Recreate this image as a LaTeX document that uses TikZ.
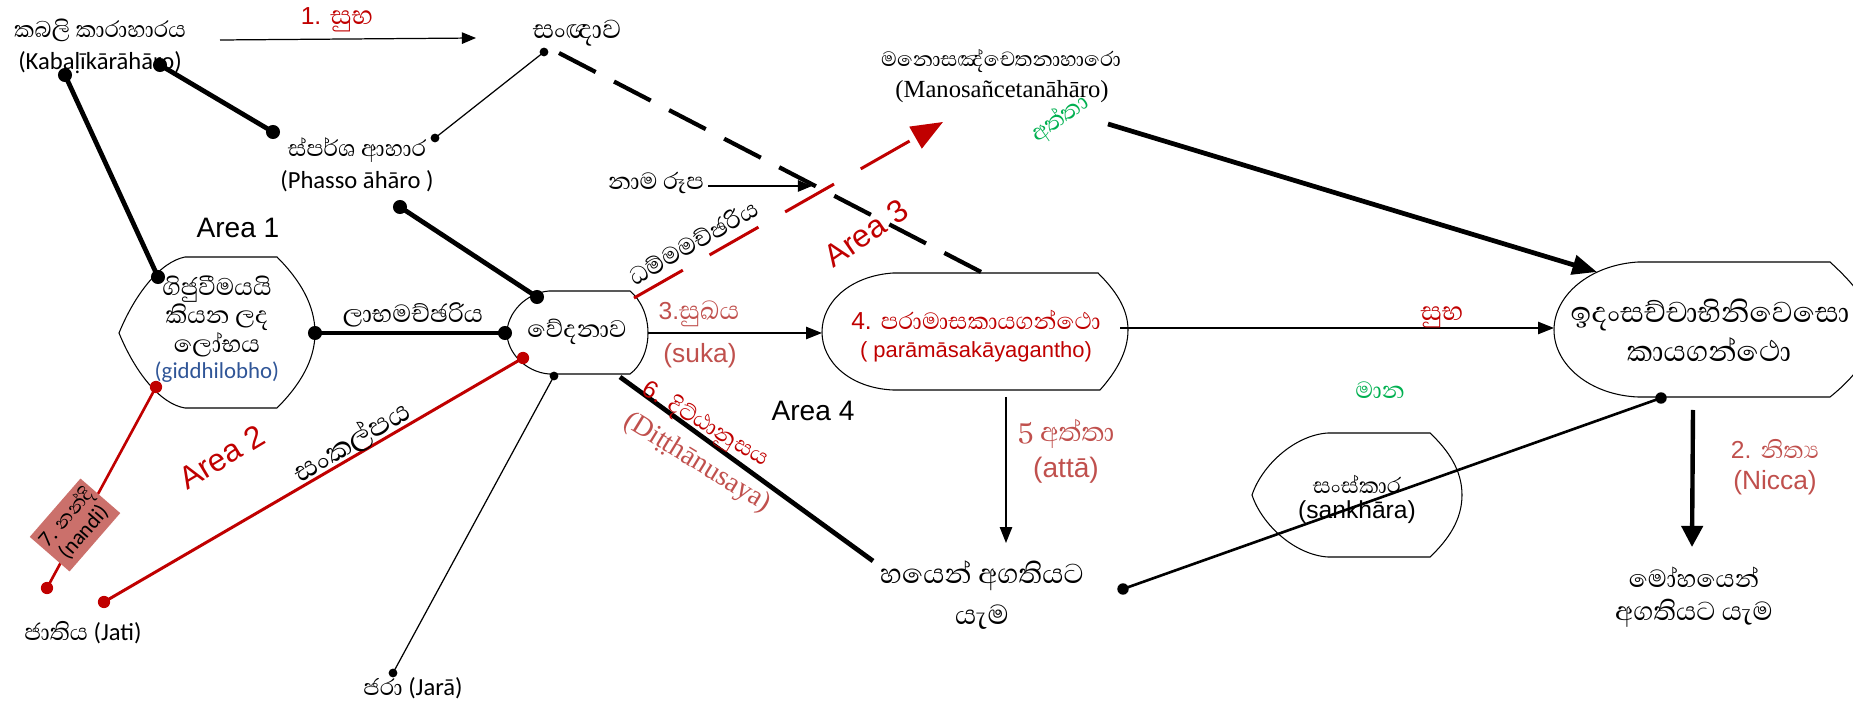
\documentclass[tikz,border=0pt]{standalone}
\usepackage{fontspec}
\setmainfont{Carlito}
\newfontfamily\arialf{Liberation Sans}
\newfontfamily\timesf{Liberation Serif}
\newfontfamily\sinhf[Script=Sinhala]{Abhaya Libre}
\newcommand\sinsz[2]{{\sinhf\fontsize{#1}{#1}\selectfont #2}}
\usetikzlibrary{arrows.meta}
\definecolor{darkred}{HTML}{C00000}
\definecolor{softred}{HTML}{C0504D}
\definecolor{leafgreen}{HTML}{00B050}
\definecolor{inkblue}{HTML}{2F5597}
\definecolor{nandifill}{HTML}{CB706B}
\tikzset{
  sin/.style={font=\sinhf\fontsize{#1}{#1}\selectfont},
  sin/.default=15,
  lat/.style={font=\fontsize{14}{17}\selectfont},
  arl/.style={font=\arialf\fontsize{14}{17}\selectfont},
  area/.style={font=\arialf\fontsize{16}{19}\selectfont},
  bigdot/.style={circle,fill,inner sep=0pt,minimum size=8pt},
  middot/.style={circle,fill,inner sep=0pt,minimum size=6.5pt},
  smalldot/.style={circle,fill,inner sep=0pt,minimum size=5pt},
  reddot/.style={circle,fill=darkred,inner sep=0pt,minimum size=7pt},
  heavy/.style={line width=2.7pt},
  thinline/.style={line width=0.7pt},
  redline/.style={draw=darkred,line width=1.7pt},
  outline/.style={line width=0.6pt},
  tip/.style={-{Triangle[length=8pt,width=6.5pt]}},
}
\begin{document}
\begin{tikzpicture}[x=0.02cm,y=-0.02cm,inner sep=0pt]
\useasboundingbox (0,0) rectangle (1853,705);
% outlines of the boxes
\draw[outline] (185,257) -- (277,257) .. controls (300,280) and (315,305) .. (315,333)
  .. controls (315,360) and (300,385) .. (277,408) -- (185,408)
  .. controls (160,404) and (135,372) .. (119,333)
  .. controls (135,294) and (160,262) .. (185,257) -- cycle;
\draw[outline] (549,291) -- (630,291) .. controls (641,300) and (648,316) .. (648,333)
  .. controls (648,350) and (641,366) .. (630,374) -- (549,374)
  .. controls (525,372) and (507,352) .. (507,333)
  .. controls (507,314) and (525,293) .. (549,291) -- cycle;
\draw[outline] (893,273) -- (1098,273) .. controls (1115,290) and (1128,308) .. (1128,330)
  .. controls (1128,352) and (1116,372) .. (1100,390) -- (893,390)
  .. controls (850,388) and (822,362) .. (822,332)
  .. controls (822,302) and (850,276) .. (893,273) -- cycle;
\draw[outline] (1638,262) -- (1830,262) .. controls (1855,285) and (1872,305) .. (1872,330)
  .. controls (1872,355) and (1855,377) .. (1830,397) -- (1638,397)
  .. controls (1590,395) and (1554,365) .. (1554,330)
  .. controls (1554,295) and (1590,265) .. (1638,262) -- cycle;
\draw[outline] (1328,433) -- (1430,433) .. controls (1448,450) and (1462,470) .. (1462,495)
  .. controls (1462,520) and (1448,540) .. (1430,557) -- (1328,557)
  .. controls (1295,555) and (1262,525) .. (1252,495)
  .. controls (1262,465) and (1295,435) .. (1328,433) -- cycle;

% dots
\node[bigdot] (k1) at (65,75) {};
\node[bigdot] (k2) at (160,65) {};
\node[bigdot] (p1) at (273,132) {};
\node[smalldot] (p2) at (435,138) {};
\node[smalldot] (sd) at (544,52) {};
\node[bigdot] (p3) at (400,207) {};
\node[bigdot] (g1) at (158,277) {};
\node[bigdot] (g2) at (315,333) {};
\node[reddot] (g3) at (156,387) {};
\node[bigdot] (v1) at (537,297) {};
\node[bigdot] (v2) at (505,333) {};
\node[reddot] (v3) at (523,358) {};
\node[smalldot] (v4) at (554,376) {};
\node[reddot] (j1) at (47,588) {};
\node[reddot] (j2) at (104,602) {};
\node[smalldot] (jd) at (393,673) {};
\node[middot] (bd) at (1123,589) {};
\node[middot] (id) at (1661,398) {};

% free ends
\coordinate (subhaW) at (220,40);
\coordinate (subhaE) at (476,38);
\coordinate (dashS) at (559,53);
\coordinate (paramN) at (983,273);
\coordinate (vedaNE) at (634,298);
\coordinate (manoS) at (943,122);
\coordinate (namaE) at (708,186);
\coordinate (namaT) at (812,186);
\coordinate (manoE) at (1108,124);
\coordinate (idamNW) at (1597,272);
\coordinate (vedaE) at (648,333);
\coordinate (paramW) at (822,333);
\coordinate (paramE) at (1120,328);
\coordinate (idamW) at (1554,328);
\coordinate (paramS) at (1006,397);
\coordinate (bhayaN) at (1006,543);
\coordinate (vedaSE) at (620,377);
\coordinate (bhayaNW) at (873,561);
\coordinate (idamS) at (1693,410);
\coordinate (mohaN) at (1692,547);

% connectors
\draw[thinline,tip] (subhaW) -- (subhaE);
\draw[heavy] (k1.center) -- (g1.center);
\draw[heavy] (k2.center) -- (p1.center);
\draw[thinline] (p2.center) -- (sd.center);
\draw[heavy] (p3.center) -- (v1.center);
\draw[heavy] (g2.center) -- (v2.center);
\draw[redline,line width=1.5pt] (g3.center) -- (j1.center);
\draw[redline] (j2.center) -- (v3.center);
\draw[thinline] (v4.center) -- (jd.center);
\draw[line width=1.5pt] (bd.center) -- (id.center);
\draw[line width=2.4pt,dash pattern=on 23.5pt off 11.8pt] (dashS) -- (paramN);
\draw[redline,dash pattern=on 32pt off 17.5pt,-{Triangle[length=18pt,width=14pt]}] (vedaNE) -- (manoS);
\draw[thinline,tip] (namaE) -- (namaT);
\draw[heavy,-{Triangle[length=14pt,width=11pt]}] (manoE) -- (idamNW);
\draw[thinline,-{Triangle[length=9pt,width=7pt]}] (vedaE) -- (paramW);
\draw[thinline,-{Triangle[length=9pt,width=7pt]}] (paramE) -- (idamW);
\draw[thinline,-{Triangle[length=9pt,width=7pt]}] (paramS) -- (bhayaN);
\draw[heavy] (vedaSE) -- (bhayaNW);
\draw[line width=2.5pt,-{Triangle[length=12pt,width=12pt]}] (idamS) -- (mohaN);

% texts
\node[sin=16.5] (kabali) at (100,30) {කබලි කාරාහාරය};
\node[lat] (kabalipali) at (100,63) {(Kabaḷīkārāhāro)};
\node[arl,text=darkred] (subhaone) at (337,20) {1. \sinsz{19}{සුභ}};
\node[sin=19] (sanna) at (577,33) {සංඥාව};
\node[sin=15] (mano) at (1001,61) {මනොසඤ්චෙතනාහාරො};
\node[font=\timesf\fontsize{14}{17}\selectfont] (manopali) at (1002,92) {(Manosañcetanāhāro)};
\node[sin=16.5] (phasso) at (357,150) {ස්පර්ශ ආහාර};
\node[lat] (phassopali) at (357,181) {(Phasso āhāro )};
\node[sin=17] (namarupa) at (656,183) {නාම රූප};
\node[sin=17.5,rotate=30] (dhamma) at (693,242) {ධම්මමච්ඡරිය};
\node[font=\arialf\fontsize{18}{20}\selectfont,text=darkred,rotate=34.5] (areathree) at (866,233) {Area 3};
\node[sin=17,text=leafgreen,rotate=34.5] (attatop) at (1060,119) {අත්තා};
\node[area] (areaone) at (238,228) {Area 1};
\node[sin=17.5,align=center,font=\sinhf\fontsize{17.5}{15}\selectfont] (giddhi) at (217,316)
  {ගිජුවීමයයි\\කියන ලද\\ලෝභය};
\node[lat,font=\fontsize{13}{15}\selectfont,text=inkblue] (giddhipali) at (217,372) {(giddhilobho)};
\node[sin=18] (labha) at (413,315) {ලාභමච්ඡරිය};
\node[sin=17.5] (vedana) at (577,332) {වේදනාව};
\node[arl,text=softred] (sukhathree) at (699,314) {3.\sinsz{18.5}{සුඛය}};
\node[font=\arialf\fontsize{15}{17}\selectfont,text=softred] (suka) at (700,356) {(suka)};
\node[arl,text=darkred] (paramasa) at (976,320) {4. \sinsz{17}{පරාමාසකායගන්ථො}};
\node[font=\arialf\fontsize{12.5}{15}\selectfont,text=darkred] (paramasapali) at (976,352) {( parāmāsakāyagantho)};
\node[sin=19,text=darkred] (subhatwo) at (1442,317) {සුභ};
\node[sin=21] (idam) at (1710,315) {ඉදංසච්චාභිනිවෙසො};
\node[sin=21] (idamtwo) at (1709,350) {කායගන්ථො};
\node[sin=17,text=leafgreen] (mana) at (1380,390) {මාන};
\node[area] (areafour) at (813,411) {Area 4};
\node[arl,text=darkred,rotate=-31] (ditthi) at (705,425) {6. \sinsz{16.5}{දිට්ඨානුසය}};
\node[font=\timesf\fontsize{16}{18}\selectfont,text=softred,rotate=-31.5] (ditthipali) at (697,463) {(Diṭṭhānusaya)};
\node[sin=19.5,text=softred] (attafive) at (1066,434) {5 අත්තා};
\node[font=\arialf\fontsize{16}{18}\selectfont,text=softred] (attapali) at (1066,470) {(attā)};
\node[font=\arialf\fontsize{18}{20}\selectfont,text=darkred,rotate=31] (areatwo) at (222,457) {Area 2};
\node[sin=21,rotate=30.6] (sankalpa) at (352,442) {සංකල්පය};
\node[fill=nandifill,rotate=49,minimum width=44pt,minimum height=30pt,align=center,
  font=\fontsize{12.5}{13}\selectfont] (nandi) at (75,525) {7. \sinsz{14}{නන්දි}\\(nandi)};
\node[lat] (jati) at (83,633) {\sinsz{17}{ජාතිය} (Jati)};
\node[lat] (jara) at (413,688) {\sinsz{16.5}{ජරා} (Jarā)};
\node[sin=20] (bhaya) at (982,576) {හයෙන් අගතියට};
\node[sin=20] (bhayatwo) at (982,617) {යැම};
\node[sin=16] (sankhara) at (1357,484) {සංස්කාර};
\node[arl] (sankharapali) at (1357,512) {(sankhāra)};
\node[arl,text=softred] (nicca) at (1775,449) {2. \sinsz{17}{නිත්^^^^200dය}};
\node[font=\arialf\fontsize{15}{17}\selectfont,text=softred] (niccapali) at (1775,483) {(Nicca)};
\node[sin=18] (moha) at (1694,577) {මෝහයෙන්};
\node[sin=19] (mohatwo) at (1694,613) {අගතියට යැම};
\end{tikzpicture}
\end{document}
